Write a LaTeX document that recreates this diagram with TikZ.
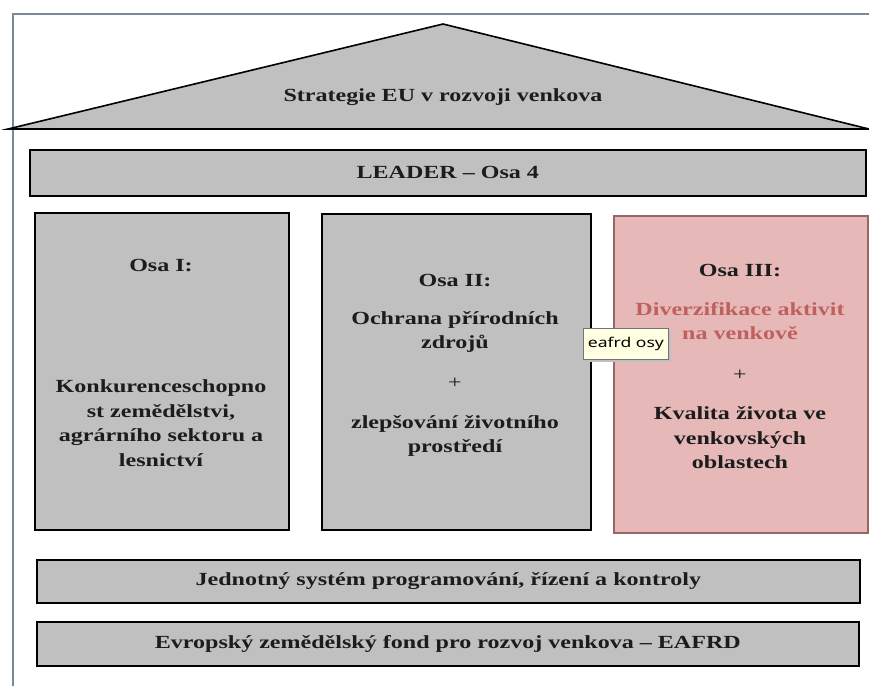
\documentclass[tikz,border=0pt]{standalone}
\usepackage{fontspec}
\setmainfont{Liberation Serif}[FakeStretch=1.3]
\newfontfamily\tipfont{Noto Sans}[FakeStretch=1.3]
\definecolor{boxgray}{HTML}{C0C0C0}
\definecolor{pinkfill}{HTML}{E6B9B8}
\definecolor{pinkline}{HTML}{9A6565}
\definecolor{redtext}{HTML}{C0605E}
\definecolor{framecol}{HTML}{7D8896}
\definecolor{tipfill}{HTML}{FFFFE1}
\definecolor{textcol}{HTML}{1C1C1C}
\begin{document}
\begin{tikzpicture}[x=1pt,y=-1pt,
  boxstyle/.style={draw=black, fill=boxgray, line width=1.6pt, inner sep=0pt, anchor=north west},
  pinkbox/.style={draw=pinkline, fill=pinkfill, line width=1.6pt, inner sep=0pt, anchor=north west},
  lbl/.style={font=\bfseries\fontsize{18.5}{24.5}\selectfont, text=textcol, align=center, inner sep=0pt},
  redlbl/.style={lbl, text=redtext},
  tipbox/.style={draw=black!55, fill=tipfill, line width=0.8pt, inner sep=0pt, anchor=north west,
    font=\tipfont\fontsize{13.5}{16}\selectfont, text=black}
]
\useasboundingbox (0,0) rectangle (869,686);

% outer frame
\coordinate (fbl) at (13,686);
\coordinate (ftl) at (13,14);
\coordinate (ftr) at (869,14);
\draw[framecol, line width=2pt] (fbl) -- (ftl) -- (ftr);

% roof
\coordinate (rl) at (8,129);
\coordinate (rt) at (443,24);
\coordinate (rr) at (869,129);
\draw[fill=boxgray, line width=1.6pt, line join=miter] (rl) -- (rt) -- (rr) -- cycle;
\draw[line width=2.2pt] (rl) -- (rr);
\node[lbl] (roof) at (443,97) {Strategie EU v rozvoji venkova};

% LEADER
\node[boxstyle, minimum width=836pt, minimum height=46pt] (leader) at (29,149) {};
\node[lbl] (leadert) at (leader.center) {LEADER – Osa 4};

% Osa I
\node[boxstyle, minimum width=254pt, minimum height=317pt] (osa1) at (34,212) {};
\node[lbl] (osa1h) at (161,265) {Osa I:};
\node[lbl] (osa1t) at (161,423) {Konkurenceschopno\\st zemědělstvi,\\agrárního sektoru a\\lesnictví};

% Osa II
\node[boxstyle, minimum width=269pt, minimum height=316pt] (osa2) at (321,213) {};
\node[lbl] (osa2h) at (455,280) {Osa II:};
\node[lbl] (osa2a) at (455,332) {Ochrana přírodních\\zdrojů};
\node[lbl, font=\fontsize{18.5}{24.5}\selectfont] (osa2p) at (455,383) {+};
\node[lbl] (osa2b) at (455,436) {zlepšování životního\\prostředí};

% Osa III
\node[pinkbox, minimum width=254pt, minimum height=317pt] (osa3) at (613,215) {};
\node[lbl] (osa3h) at (740,270) {Osa III:};
\node[redlbl] (osa3a) at (740,321) {Diverzifikace aktivit\\na venkově};
\node[lbl, font=\fontsize{18.5}{24.5}\selectfont] (osa3p) at (740,375) {+};
\node[lbl] (osa3b) at (740,438) {Kvalita života ve\\venkovských\\oblastech};

% bottom bars
\node[boxstyle, minimum width=823pt, minimum height=43pt] (jedn) at (36,559) {};
\node[lbl] (jednt) at (jedn.center) {Jednotný systém programování, řízení a kontroly};
\node[boxstyle, minimum width=822pt, minimum height=44pt] (eafrd) at (36,621) {};
\node[lbl] (eafrdt) at (eafrd.center) {Evropský zemědělský fond pro rozvoj venkova – EAFRD};

% tooltip
\fill[black!25] (586,331) rectangle (671,362);
\node[tipbox, minimum width=85pt, minimum height=31pt] (tip) at (583,328) {eafrd osy};
\end{tikzpicture}
\end{document}
